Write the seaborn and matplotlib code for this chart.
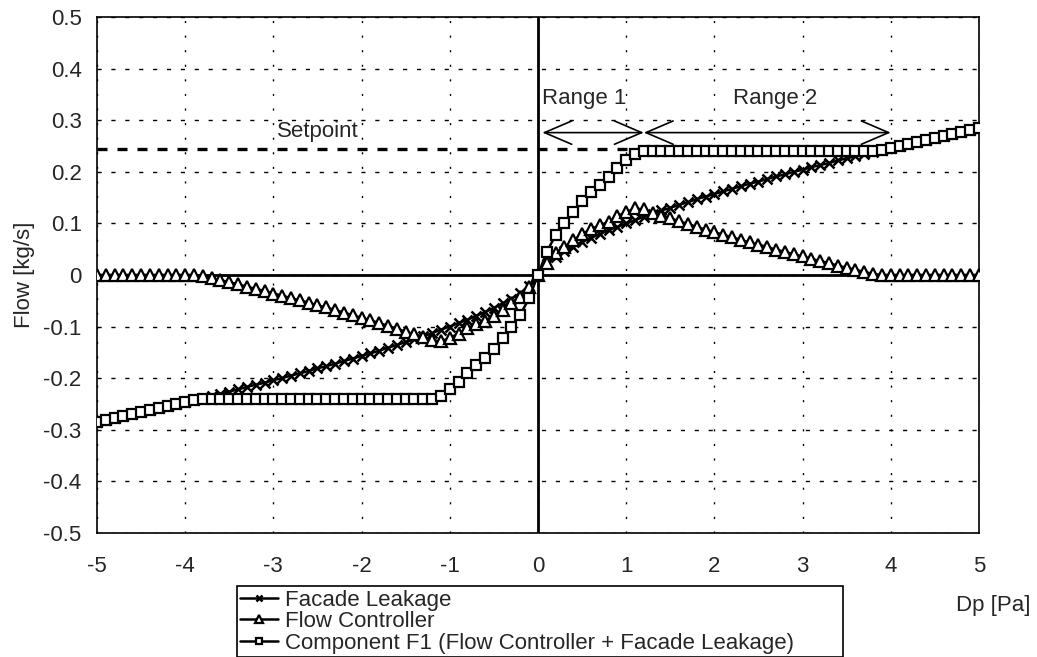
#!/usr/bin/env python3
"""Component F1 flow characteristic: facade leakage, flow controller and their sum."""
import numpy as np
import pandas as pd
import matplotlib
matplotlib.use("Agg")
import matplotlib.pyplot as plt
import seaborn as sns

# pressure difference grid [Pa], 0.1 Pa steps from -5 to 5
dp = np.round(np.linspace(-5, 5, 101), 1)

facade_leakage = [
    -0.285, -0.281, -0.277, -0.273, -0.270, -0.266, -0.262, -0.258, -0.254, -0.250,
    -0.246, -0.242, -0.238, -0.234, -0.230, -0.226, -0.222, -0.217, -0.213, -0.209,
    -0.204, -0.200, -0.195, -0.191, -0.186, -0.181, -0.177, -0.172, -0.167, -0.162,
    -0.157, -0.152, -0.147, -0.141, -0.136, -0.130, -0.125, -0.119, -0.113, -0.106,
    -0.100, -0.093, -0.087, -0.079, -0.072, -0.064, -0.055, -0.046, -0.035, -0.022,
    0.000,
    0.022, 0.035, 0.046, 0.055, 0.064, 0.072, 0.079, 0.087, 0.093, 0.100,
    0.106, 0.113, 0.119, 0.125, 0.130, 0.136, 0.141, 0.147, 0.152, 0.157,
    0.162, 0.167, 0.172, 0.177, 0.181, 0.186, 0.191, 0.195, 0.200, 0.204,
    0.209, 0.213, 0.217, 0.222, 0.226, 0.230, 0.234, 0.238, 0.242, 0.246,
    0.250, 0.254, 0.258, 0.262, 0.266, 0.270, 0.273, 0.277, 0.281, 0.285,
]

flow_controller = [
    0.000, 0.000, 0.000, 0.000, 0.000, 0.000, 0.000, 0.000, 0.000, 0.000,
    0.000, 0.000, -0.002, -0.006, -0.010, -0.014, -0.018, -0.023, -0.027, -0.031,
    -0.036, -0.040, -0.045, -0.049, -0.054, -0.059, -0.063, -0.068, -0.073, -0.078,
    -0.083, -0.088, -0.093, -0.099, -0.104, -0.110, -0.115, -0.121, -0.127, -0.129,
    -0.122, -0.114, -0.103, -0.096, -0.089, -0.079, -0.067, -0.054, -0.042, -0.023,
    0.000,
    0.023, 0.042, 0.054, 0.067, 0.079, 0.089, 0.096, 0.103, 0.114, 0.122,
    0.129, 0.127, 0.121, 0.115, 0.110, 0.104, 0.099, 0.093, 0.088, 0.083,
    0.078, 0.073, 0.068, 0.063, 0.059, 0.054, 0.049, 0.045, 0.040, 0.036,
    0.031, 0.027, 0.023, 0.018, 0.014, 0.010, 0.006, 0.002, 0.000, 0.000,
    0.000, 0.000, 0.000, 0.000, 0.000, 0.000, 0.000, 0.000, 0.000, 0.000,
]

component_f1 = [
    -0.285, -0.281, -0.277, -0.273, -0.270, -0.266, -0.262, -0.258, -0.254, -0.250,
    -0.246, -0.242, -0.240, -0.240, -0.240, -0.240, -0.240, -0.240, -0.240, -0.240,
    -0.240, -0.240, -0.240, -0.240, -0.240, -0.240, -0.240, -0.240, -0.240, -0.240,
    -0.240, -0.240, -0.240, -0.240, -0.240, -0.240, -0.240, -0.240, -0.240, -0.235,
    -0.222, -0.207, -0.190, -0.175, -0.161, -0.143, -0.122, -0.100, -0.077, -0.045,
    0.000,
    0.045, 0.077, 0.100, 0.122, 0.143, 0.161, 0.175, 0.190, 0.207, 0.222,
    0.235, 0.240, 0.240, 0.240, 0.240, 0.240, 0.240, 0.240, 0.240, 0.240,
    0.240, 0.240, 0.240, 0.240, 0.240, 0.240, 0.240, 0.240, 0.240, 0.240,
    0.240, 0.240, 0.240, 0.240, 0.240, 0.240, 0.240, 0.240, 0.242, 0.246,
    0.250, 0.254, 0.258, 0.262, 0.266, 0.270, 0.273, 0.277, 0.281, 0.285,
]

series_labels = ["Facade Leakage", "Flow Controller",
                 "Component F1 (Flow Controller + Facade Leakage)"]

setpoint = 0.244
setpoint_end = 1.15
range1 = (0.05, 1.2)
range2 = (1.2, 4.0)

x_ticks = [-5, -4, -3, -2, -1, 0, 1, 2, 3, 4, 5]
y_ticks = [-0.5, -0.4, -0.3, -0.2, -0.1, 0, 0.1, 0.2, 0.3, 0.4, 0.5]

FS = 16


def main():
    sns.set_style("white")
    plt.rcParams["font.family"] = ["Liberation Sans", "DejaVu Sans"]
    plt.rcParams["font.size"] = FS

    df = pd.DataFrame({"dp": dp, "fl": facade_leakage, "fc": flow_controller, "f1": component_f1})

    fig = plt.figure(figsize=(10.37, 6.57), dpi=100)
    ax = fig.add_axes([0.0935, 0.189, 0.8505, 0.785])

    # gridlines (short dashes like the original spreadsheet chart)
    for xv in x_ticks:
        ax.axvline(xv, color="black", lw=1.0, ls=(0, (1.5, 9)), zorder=0)
    for yv in y_ticks:
        ax.axhline(yv, color="black", lw=1.0, ls=(0, (3, 7)), zorder=0)
    ax.axhline(0, color="black", lw=2.0, zorder=1)
    ax.axvline(0, color="black", lw=2.0, zorder=1)

    # setpoint line
    ax.hlines(setpoint, x_ticks[0], setpoint_end, color="black", lw=2.4, ls=(0, (3, 3)), zorder=1)
    ax.text(-2.5, setpoint + 0.034, "Setpoint", ha="center", va="center", fontsize=FS)

    styles = [
        dict(marker="x", ms=7, mew=1.8, mfc="black"),
        dict(marker="^", ms=8, mew=1.6, mfc="white"),
        dict(marker="s", ms=6.5, mew=1.6, mfc="white"),
    ]
    for col, lab, st in zip(["fl", "fc", "f1"], series_labels, styles):
        sns.lineplot(data=df, x="dp", y=col, ax=ax, color="black", lw=1.8,
                     mec="black", label=lab, legend=False, zorder=3, **st)

    # operating ranges
    arrow = dict(arrowstyle="<->,head_length=1.4,head_width=0.6", color="black", lw=1.2,
                 shrinkA=0, shrinkB=0, mutation_scale=14)
    ya = 0.276
    ax.annotate("", xy=(range1[0], ya), xytext=(range1[1], ya), arrowprops=arrow)
    ax.annotate("", xy=(range2[0], ya), xytext=(range2[1], ya), arrowprops=arrow)
    ax.text(range1[0], 0.343, "Range 1", ha="left", va="center", fontsize=FS)
    ax.text(2.69, 0.343, "Range 2", ha="center", va="center", fontsize=FS)

    ax.set_xlim(-5, 5)
    ax.set_ylim(-0.5, 0.5)
    ax.set_xticks(x_ticks)
    ax.set_yticks(y_ticks)
    ax.set_xticklabels([str(v) for v in x_ticks])
    ax.set_yticklabels([f"{v:g}" for v in y_ticks])
    ax.tick_params(axis="x", length=0, pad=17, labelsize=FS)
    ax.tick_params(axis="y", length=0, pad=11, labelsize=FS)
    ax.set_xlabel("")
    ax.set_ylabel("Flow [kg/s]", fontsize=FS, labelpad=6)
    for s in ax.spines.values():
        s.set_color("black")
        s.set_linewidth(1.2)

    fig.text(0.958, 0.079, "Dp [Pa]", ha="center", va="center", fontsize=FS)

    handles, labels = ax.get_legend_handles_labels()
    leg = fig.legend(handles, labels, loc="lower left", bbox_to_anchor=(0.2285, 0.0, 0.584, 0.11),
                     mode="expand", frameon=True, fancybox=False, edgecolor="black", framealpha=1,
                     fontsize=FS, handlelength=1.7, handletextpad=0.3, labelspacing=0.02,
                     borderpad=0.15, borderaxespad=0, markerscale=0.7)
    leg.get_frame().set_linewidth(1.2)

    fig.savefig("out.png", dpi=100)
    plt.close(fig)


if __name__ == "__main__":
    main()
